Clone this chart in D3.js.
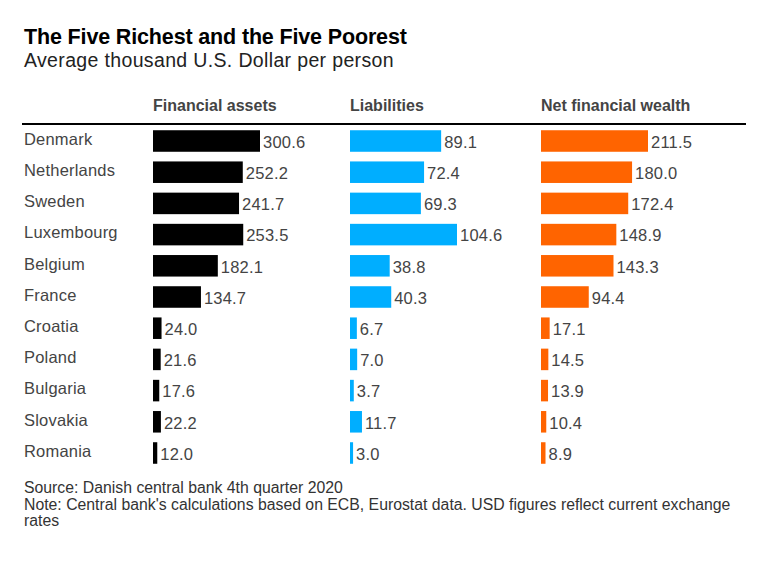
<!DOCTYPE html>
<html>
<head>
<meta charset="utf-8">
<script src="https://cdn.jsdelivr.net/npm/d3@7"></script>
<style>
  html, body { margin: 0; padding: 0; background: #fff; }
  svg { display: block; font-family: "Liberation Sans", Arial, sans-serif; }
</style>
</head>
<body>
<svg id="chart" width="765" height="563"></svg>
<script>
const countries = ["Denmark", "Netherlands", "Sweden", "Luxembourg", "Belgium", "France",
                   "Croatia", "Poland", "Bulgaria", "Slovakia", "Romania"];
const financialAssets = [300.6, 252.2, 241.7, 253.5, 182.1, 134.7, 24.0, 21.6, 17.6, 22.2, 12.0];
const liabilities = [89.1, 72.4, 69.3, 104.6, 38.8, 40.3, 6.7, 7.0, 3.7, 11.7, 3.0];
const netWealth = [211.5, 180.0, 172.4, 148.9, 143.3, 94.4, 17.1, 14.5, 13.9, 10.4, 8.9];
const columnTitles = ["Financial assets", "Liabilities", "Net financial wealth"];
const title = "The Five Richest and the Five Poorest";
const subtitle = "Average thousand U.S. Dollar per person";
const footerLines = [
  "Source: Danish central bank 4th quarter 2020",
  "Note: Central bank's calculations based on ECB, Eurostat data. USD figures reflect current exchange",
  "rates"
];

const svg = d3.select("#chart");

svg.append("text").attr("x", 24).attr("y", 44)
  .attr("font-size", 21.5).attr("font-weight", "bold").attr("fill", "#000")
  .attr("letter-spacing", -0.15)
  .text(title);
svg.append("text").attr("x", 24).attr("y", 67)
  .attr("font-size", 19.5).attr("fill", "#222").attr("letter-spacing", 0.35)
  .text(subtitle);

const y = d3.scaleBand().domain(countries)
  .range([125.4, 125.4 + 31.2 * countries.length])
  .paddingInner(0.31).paddingOuter(0.155);

// rule under headers
svg.append("line").attr("x1", 22).attr("x2", 746).attr("y1", 124).attr("y2", 124)
  .attr("stroke", "#000").attr("stroke-width", 2);

const columns = [
  { name: columnTitles[0], values: financialAssets, x0: 153, color: "#000000" },
  { name: columnTitles[1], values: liabilities, x0: 350, color: "#00aeff" },
  { name: columnTitles[2], values: netWealth, x0: 541, color: "#ff6400" }
];

// country labels
svg.append("g").selectAll("text").data(countries).join("text")
  .attr("x", 24)
  .attr("y", d => y(d) + y.bandwidth() / 2 - 2)
  .attr("dy", "0.35em")
  .attr("font-size", 16.5).attr("fill", "#444").attr("letter-spacing", 0.2)
  .text(d => d);

columns.forEach(col => {
  const x = d3.scaleLinear().domain([0, d3.max(col.values)]).range([col.x0, col.x0 + 107]);
  const g = svg.append("g");
  g.append("text").attr("x", col.x0).attr("y", 111)
    .attr("font-size", 16).attr("font-weight", "bold").attr("fill", "#444")
    .text(col.name);
  const data = countries.map((c, i) => ({ c, v: col.values[i] }));
  g.selectAll("rect").data(data).join("rect")
    .attr("x", x(0))
    .attr("y", d => y(d.c))
    .attr("width", d => x(d.v) - x(0))
    .attr("height", y.bandwidth())
    .attr("fill", col.color);
  g.selectAll("text.val").data(data).join("text")
    .attr("class", "val")
    .attr("x", d => x(d.v) + 3)
    .attr("y", d => y(d.c) + y.bandwidth() / 2 + 1)
    .attr("dy", "0.35em")
    .attr("font-size", 16.5).attr("fill", "#444").attr("letter-spacing", 0.2)
    .text(d => d.v.toFixed(1));
});

svg.append("g").selectAll("text").data(footerLines).join("text")
  .attr("x", 24).attr("y", (d, i) => 493 + i * 16.5)
  .attr("font-size", 15.8).attr("fill", "#333")
  .text(d => d);
</script>
</body>
</html>
